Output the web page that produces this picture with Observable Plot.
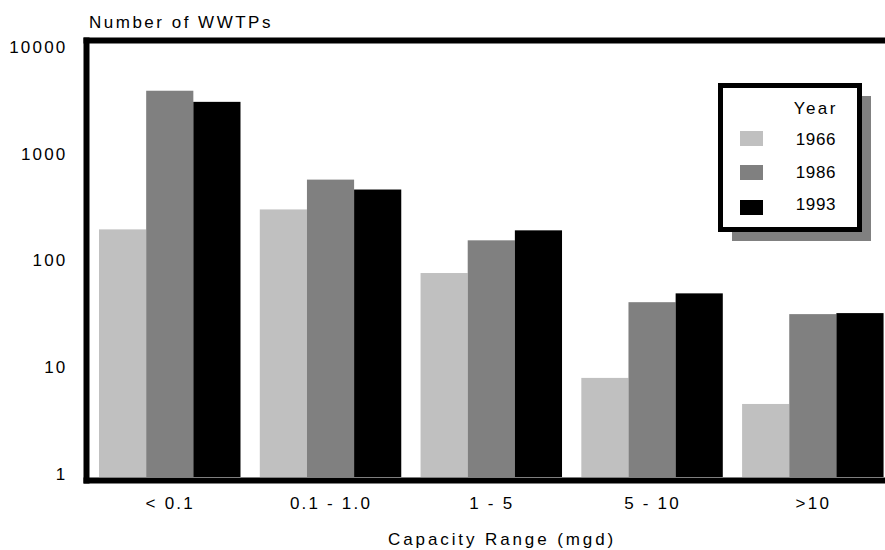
<!DOCTYPE html>
<html>
<head>
<meta charset="utf-8">
<script src="https://cdn.jsdelivr.net/npm/d3@7"></script>
<script src="https://cdn.jsdelivr.net/npm/@observablehq/plot@0.6"></script>
<style>
  body { margin: 0; background: #fff; }
  #wrap { position: relative; width: 885px; height: 550px; font-family: "Liberation Sans", Arial, sans-serif; color: #000; }
  #wrap svg { position: absolute; left: 0; top: 0; }
  .t { position: absolute; font-size: 17px; line-height: 17px; white-space: nowrap; }
  #ytitle { left: 89px; top: 14px; letter-spacing: 2.5px; }
  #xtitle { left: 388px; top: 531px; letter-spacing: 2.9px; }
  #legshadow { position: absolute; left: 732px; top: 96px; width: 139px; height: 145px; background: #808080; }
  #legbox { position: absolute; left: 718px; top: 83px; width: 144px; height: 149px; box-sizing: border-box; border: 5px solid #000; background: #fff; }
  .sw { position: absolute; left: 740px; width: 23px; height: 15px; }
  .lt { right: 47px; text-align: right; }
</style>
</head>
<body>
<div id="wrap"></div>
<script>
// ---- data ----
const categories = ["< 0.1", "0.1 - 1.0", "1 - 5", "5 - 10", ">10"];
const years = ["1966", "1986", "1993"];
const values1966 = [195, 300, 76, 7.9, 4.5];
const values1986 = [3890, 571, 154, 40.5, 31.3];
const values1993 = [3060, 461, 191, 49, 32];
const yTicks = [1, 10, 100, 1000, 10000];
const yearColors = ["#c0c0c0", "#808080", "#000000"];
const yTitle = "Number of WWTPs";
const xTitle = "Capacity Range (mgd)";
const legendTitle = "Year";

const seriesByYear = {"1966": values1966, "1986": values1986, "1993": values1993};
const data = categories.flatMap((c, i) => years.map(y => ({cat: c, year: y, value: seriesByYear[y][i]})));

// layout
const W = 885, H = 550, mL = 86, mR = 0, mT = 40, mB = 70;
const yDomain = [0.93, 10000];          // axis runs slightly below 1 down to the frame
const xOpts = {paddingInner: 0.12, paddingOuter: 0.045, align: 0.9, round: false};
const band = d3.scaleBand().domain(categories).range([mL, W - mR])
  .paddingInner(xOpts.paddingInner).paddingOuter(xOpts.paddingOuter).align(xOpts.align).round(false);
const sub = band.bandwidth() / years.length;

const chart = Plot.plot({
  width: W,
  height: H,
  marginTop: mT,
  marginBottom: mB,
  marginLeft: mL,
  marginRight: mR,
  style: {fontFamily: "'Liberation Sans', Arial, sans-serif", fontSize: "17px", letterSpacing: "2.2px", color: "#000", background: "transparent", overflow: "visible"},
  x: {type: "band", domain: categories, ...xOpts, label: null},
  y: {type: "log", domain: yDomain, range: [477, 47]},
  color: {domain: years, range: yearColors},
  marks: [
    ...years.map((yr, j) => Plot.barY(data.filter(d => d.year === yr), {
      x: "cat", y1: yDomain[0], y2: "value", fill: "year",
      insetLeft: j * sub, insetRight: (years.length - 1 - j) * sub
    })),
    Plot.axisY(yTicks, {anchor: "left", tickSize: 0, tickPadding: 19, tickFormat: d3.format("d"), dy: 0, label: null, fill: "#000"}),
    Plot.axisX({anchor: "bottom", tickSize: 0, tickPadding: 16, label: null, fill: "#000"}),
    Plot.frame({anchor: "left", stroke: "#000", strokeWidth: 6, strokeLinecap: "square"}),
    Plot.frame({anchor: "top", stroke: "#000", strokeWidth: 6, strokeLinecap: "square"}),
    Plot.frame({anchor: "bottom", stroke: "#000", strokeWidth: 6, strokeLinecap: "square"})
  ]
});

const wrap = document.getElementById("wrap");
wrap.appendChild(chart);

function addDiv(id, cls, text, css) {
  const d = document.createElement("div");
  if (id) d.id = id;
  if (cls) d.className = cls;
  if (text != null) d.textContent = text;
  if (css) Object.assign(d.style, css);
  wrap.appendChild(d);
  return d;
}
addDiv("ytitle", "t", yTitle);
addDiv("xtitle", "t", xTitle);
addDiv("legshadow");
addDiv("legbox");
addDiv(null, "t lt", legendTitle, {top: "100px", letterSpacing: "2.5px"});
const swTops = [131, 165, 200];
const txtTops = [131, 164, 196];
years.forEach((y, i) => {
  addDiv(null, "sw", null, {top: swTops[i] + "px", background: yearColors[i]});
  addDiv(null, "t lt", y, {top: txtTops[i] + "px", letterSpacing: "0.6px", right: "49px"});
});
</script>
</body>
</html>
